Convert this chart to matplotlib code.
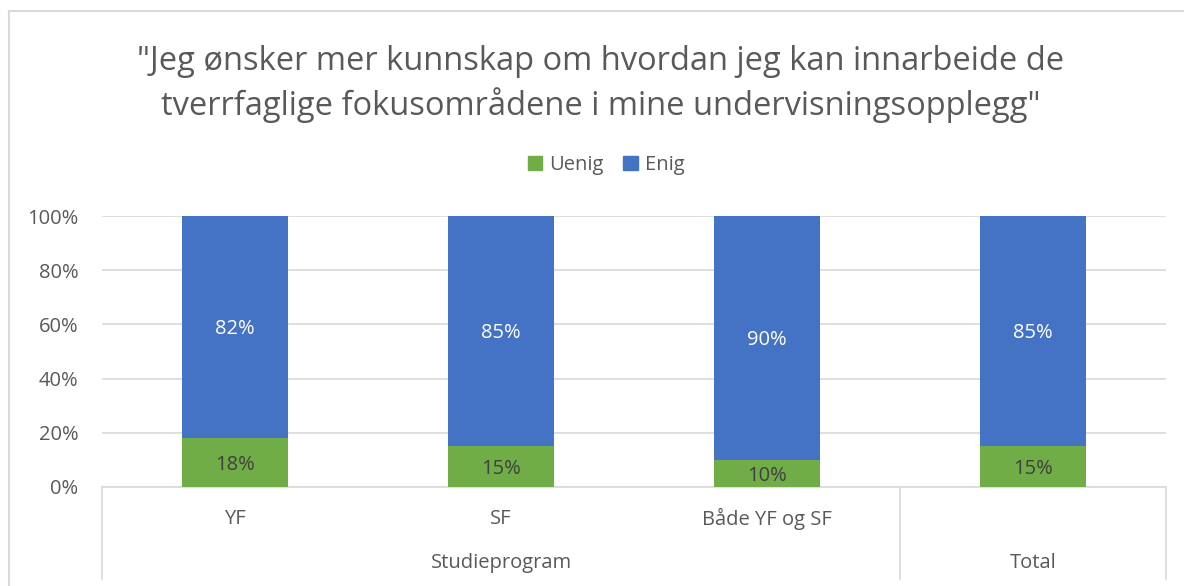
import matplotlib
matplotlib.use("Agg")
import matplotlib.pyplot as plt
from matplotlib.lines import Line2D
from matplotlib.patches import Patch
import matplotlib.transforms as mtransforms

plt.rcParams['font.family'] = ['Open Sans', 'DejaVu Sans']

categories = ["YF", "SF", "Både YF og SF", ""]
group_labels = ["Studieprogram", "Total"]
uenig = [18, 15, 10, 15]
enig = [82, 85, 90, 85]
yticks = [0, 20, 40, 60, 80, 100]

GREEN = "#70AD47"
BLUE = "#4472C4"
GRID = "#D9D9D9"
TXT = "#595959"

W, H = 1184, 586
fig = plt.figure(figsize=(W / 100, H / 100), dpi=100)
ax = fig.add_axes([102 / W, (H - 487) / H, (1166 - 102) / W, (487 - 216) / H])

x = list(range(len(categories)))
ax.bar(x, uenig, width=0.4, color=GREEN, zorder=3, label="Uenig")
ax.bar(x, enig, width=0.4, bottom=uenig, color=BLUE, zorder=3, label="Enig")

for xi, u, e in zip(x, uenig, enig):
    ax.text(xi, u / 2 - 0.8, f"{u}%", ha="center", va="center", fontsize=14.5, color="#404040", zorder=4)
    ax.text(xi, u + e / 2 - 0.8, f"{e}%", ha="center", va="center", fontsize=14.5, color="white", zorder=4)

ax.set_xlim(-0.5, 3.5)
ax.set_ylim(0, 100)
ax.set_yticks(yticks)
ax.set_yticklabels([f"{t}%" for t in yticks], fontsize=14.5, color=TXT)
ax.tick_params(axis="y", length=0, pad=17)
ax.set_xticks([])
for s in ax.spines.values():
    s.set_visible(False)
ax.yaxis.grid(True, color=GRID, linewidth=1.2, zorder=0)
ax.set_axisbelow(True)

# multi-level category axis
trans = mtransforms.blended_transform_factory(ax.transData, fig.transFigure)
ax.add_line(Line2D([-0.5, 3.5], [(H - 487) / H] * 2, transform=trans, color=GRID, lw=1.2, clip_on=False))
y_bot = (H - 579) / H
for xs in [-0.5, 2.5, 3.5]:
    ax.add_line(Line2D([xs, xs], [(H - 487) / H, y_bot], transform=trans, color=GRID, lw=1.2, clip_on=False))
for xi, c in zip(x, categories):
    if c:
        ax.text(xi, (H - 519) / H, c, transform=trans, ha="center", va="center", fontsize=14.5, color=TXT)
ax.text(1.0, (H - 563) / H, group_labels[0], transform=trans, ha="center", va="center", fontsize=14.5, color=TXT)
ax.text(3.0, (H - 563) / H, group_labels[1], transform=trans, ha="center", va="center", fontsize=14.5, color=TXT)

# title
fig.text(601 / W, (H - 84) / H,
         "\"Jeg ønsker mer kunnskap om hvordan jeg kan innarbeide de\ntverrfaglige fokusområdene i mine undervisningsopplegg\"",
         ha="center", va="center", fontsize=23.5, color=TXT, linespacing=1.3)

# legend
handles = [Patch(color=GREEN), Patch(color=BLUE)]
fig.legend(handles, ["Uenig", "Enig"], loc="center", bbox_to_anchor=(606 / W, (H - 165) / H),
           ncol=2, frameon=False, fontsize=14.5, labelcolor=TXT, handlelength=0.7, handleheight=0.7,
           handletextpad=0.35, columnspacing=1.0)

# chart border (cropped)
fig.add_artist(Line2D([8.5 / W, 8.5 / W], [0, (H - 11) / H], transform=fig.transFigure, color=GRID, lw=1.5))
fig.add_artist(Line2D([8.5 / W, 1], [(H - 11) / H] * 2, transform=fig.transFigure, color=GRID, lw=1.5))

fig.savefig("out.png", dpi=100, facecolor="white")
